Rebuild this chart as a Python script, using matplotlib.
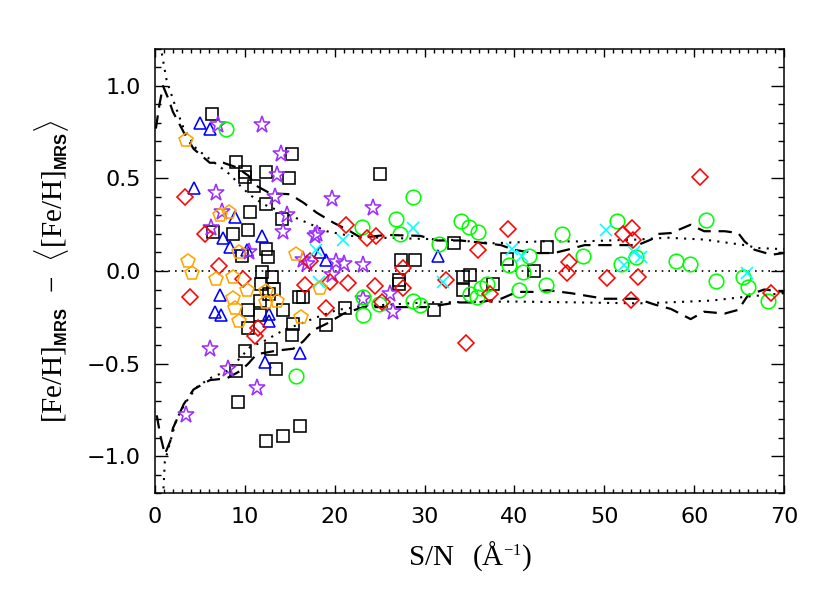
import matplotlib
matplotlib.use('Agg')
from matplotlib import pyplot as plt
from matplotlib.ticker import MultipleLocator
import matplotlib._mathtext as mathtext_internal

# black squares
sq_x = [6.3, 9.0, 10.0, 10.0, 12.3, 14.9, 11.0, 15.2, 12.3, 10.6, 14.1, 6.5, 8.7, 10.3,
        9.7, 12.4, 12.6, 11.9, 13.0, 11.8, 13.2, 12.7, 11.7, 16.0, 16.5, 14.2, 10.4, 11.7,
        10.3, 15.4, 15.3, 21.1, 19.0, 10.0, 12.9, 13.5, 9.0, 9.2, 12.4, 14.3, 16.1, 25.0,
        33.3, 27.4, 28.9, 27.1, 27.2, 31.0, 34.3, 35.1, 34.3, 37.6, 39.2, 42.2, 43.6]
sq_y = [0.85, 0.59, 0.535, 0.51, 0.535, 0.50, 0.46, 0.63, 0.36, 0.32, 0.28, 0.21, 0.20, 0.22,
        0.08, 0.12, 0.075, -0.004, -0.035, -0.07, -0.095, -0.125, -0.16, -0.14, -0.14, -0.21, -0.21, -0.24,
        -0.31, -0.285, -0.345, -0.20, -0.29, -0.43, -0.42, -0.53, -0.54, -0.71, -0.92, -0.89, -0.84, 0.525,
        0.15, 0.06, 0.06, -0.05, -0.07, -0.21, -0.03, -0.02, -0.10, -0.07, 0.065, 0.002, 0.13]

# blue triangles
tri_x = [5.0, 6.1, 4.3, 8.9, 7.6, 11.9, 8.3, 10.2, 18.4, 19.0, 7.2, 6.7, 7.4, 12.7, 12.7,
         16.1, 12.2, 31.5]
tri_y = [0.80, 0.77, 0.45, 0.29, 0.18, 0.19, 0.13, 0.115, 0.10, 0.06, -0.13, -0.22, -0.24, -0.235, -0.27,
         -0.445, -0.49, 0.08]

# purple stars
star_x = [7.0, 11.9, 14.0, 13.6, 6.8, 13.4, 19.7, 7.5, 14.7, 6.2, 14.2, 18.0, 17.8, 10.5,
          16.5, 20.1, 21.0, 23.2, 16.9, 19.7, 23.2, 6.1, 8.1, 11.4, 3.5, 24.3, 26.2, 26.5]
star_y = [0.79, 0.79, 0.63, 0.52, 0.42, 0.40, 0.39, 0.32, 0.30, 0.23, 0.21, 0.20, 0.19, 0.10,
          0.06, 0.05, 0.04, 0.03, 0.04, -0.02, -0.15, -0.42, -0.53, -0.63, -0.78, 0.34, -0.125, -0.22]

# green circles
circ_x = [7.9, 23.0, 23.2, 23.1, 15.7, 28.7, 26.8, 27.3, 31.6, 34.0, 34.9, 35.9, 24.9, 28.7,
          29.5, 35.0, 35.8, 36.3, 36.9, 39.4, 41.6, 41.0, 40.5, 43.5, 45.3, 47.6, 51.4, 51.9,
          53.5, 58.0, 59.5, 61.3, 62.4, 65.4, 66.0, 68.2]
circ_y = [0.77, 0.24, -0.14, -0.24, -0.57, 0.40, 0.28, 0.20, 0.145, 0.27, 0.24, 0.21, -0.18, -0.16,
          -0.185, -0.125, -0.14, -0.09, -0.07, 0.03, 0.08, -0.005, -0.10, -0.073, 0.20, 0.08, 0.27, 0.04,
          0.075, 0.055, 0.04, 0.275, -0.055, -0.03, -0.085, -0.16]

# red diamonds
dia_x = [3.3, 21.3, 23.6, 5.6, 7.1, 3.9, 9.8, 16.7, 17.2, 19.5, 21.5, 19.0, 11.5, 11.1,
         24.6, 35.9, 39.3, 27.6, 24.5, 27.6, 25.3, 32.4, 37.3, 34.6, 46.1, 45.9, 60.6, 53.1,
         52.1, 53.2, 50.3, 53.7, 53.0, 68.5]
dia_y = [0.40, 0.25, 0.18, 0.20, 0.025, -0.14, -0.045, -0.077, 0.055, -0.06, -0.065, -0.20, -0.31, -0.35,
         0.19, 0.115, 0.225, 0.015, -0.08, -0.09, -0.17, -0.05, -0.125, -0.39, 0.05, -0.01, 0.51, 0.23,
         0.20, 0.17, -0.04, -0.03, -0.155, -0.12]

# cyan crosses
x_x = [20.9, 17.9, 18.3, 28.7, 32.0, 39.7, 40.8, 50.2, 53.3, 54.1, 52.2, 65.9]
x_y = [0.17, 0.115, -0.06, 0.23, -0.06, 0.12, 0.08, 0.22, 0.10, 0.075, 0.03, -0.013]

# orange pentagons
pen_x = [3.5, 7.2, 8.2, 3.7, 4.1, 6.8, 8.7, 9.4, 10.2, 12.3, 8.7, 13.6, 8.9, 12.3, 9.3,
         16.2, 15.7, 18.4]
pen_y = [0.71, 0.30, 0.32, 0.055, -0.01, -0.045, -0.03, 0.10, -0.10, -0.11, -0.145, -0.16, -0.20, -0.17, -0.27,
         -0.25, 0.09, -0.09]

# dashed envelope
dash_up_x = [0.1, 0.5, 0.9, 1.5, 2.0, 3.2, 4.3, 6.1, 7.6, 9.1, 10.4, 11.3, 12.8, 15.0, 16.5,
             18.0, 19.9, 21.7, 22.9, 25.8, 29.5, 31.4, 34.0, 35.9, 38.5, 39.9, 42.2, 44.4,
             45.9, 47.8, 50.0, 53.7, 55.2, 55.9, 57.4, 59.6, 61.1, 63.4, 64.9, 65.6, 66.7,
             68.6, 70.0]
dash_up_y = [0.77, 0.90, 1.00, 0.93, 0.86, 0.75, 0.66, 0.585, 0.585, 0.56, 0.515, 0.46, 0.42, 0.415, 0.37,
             0.315, 0.26, 0.215, 0.18, 0.195, 0.19, 0.165, 0.165, 0.155, 0.14, 0.115, 0.097, 0.097,
             0.115, 0.14, 0.14, 0.14, 0.17, 0.20, 0.205, 0.25, 0.215, 0.215, 0.205, 0.16, 0.115,
             0.088, 0.097]
dash_lo_x = [0.2, 0.6, 1.1, 1.7, 2.0, 3.2, 4.3, 6.1, 8.0, 9.5, 10.4, 11.3, 13.6, 15.4, 16.5,
             17.6, 19.1, 21.0, 23.2, 26.6, 30.3, 33.6, 35.9, 38.5, 40.3, 42.2, 43.7, 46.3,
             50.0, 53.7, 55.5, 57.4, 59.6, 61.1, 63.4, 64.9, 66.0, 67.8, 70.0]
dash_lo_y = [-0.78, -0.89, -0.99, -0.92, -0.85, -0.72, -0.64, -0.59, -0.58, -0.54, -0.50, -0.45, -0.43, -0.42, -0.38,
             -0.32, -0.285, -0.23, -0.195, -0.195, -0.195, -0.17, -0.17, -0.15, -0.113, -0.113, -0.104, -0.12,
             -0.15, -0.15, -0.18, -0.205, -0.26, -0.22, -0.23, -0.21, -0.13, -0.10, -0.113]

# dotted envelope
dot_up_x = [0.6, 1.3, 2.2, 3.2, 4.6, 6.5, 8.4, 9.5, 10.6, 12.1, 14.3, 16.5, 19.1, 21.7,
            25.0, 32.5, 37.7, 42.9, 47.4, 53.7, 57.0, 61.1, 65.6, 67.1, 70.0]
dot_up_y = [1.22, 1.03, 0.90, 0.77, 0.66, 0.59, 0.52, 0.46, 0.41, 0.36, 0.315, 0.27, 0.215, 0.19,
            0.18, 0.17, 0.15, 0.16, 0.16, 0.17, 0.18, 0.17, 0.14, 0.124, 0.118]
dot_lo_x = [0.9, 1.1, 2.4, 3.5, 4.6, 6.1, 8.0, 9.1, 10.6, 12.1, 14.3, 16.2, 18.0, 20.3,
            23.2, 30.0, 40.0, 47.4, 53.7, 57.0, 61.9, 65.6, 70.0]
dot_lo_y = [-1.22, -1.03, -0.80, -0.705, -0.63, -0.58, -0.54, -0.49, -0.41, -0.38, -0.32, -0.285, -0.25, -0.21,
            -0.19, -0.17, -0.165, -0.17, -0.175, -0.17, -0.16, -0.14, -0.12]

plt.rcParams['mathtext.fontset'] = 'custom'
plt.rcParams['mathtext.rm'] = 'Liberation Serif'
plt.rcParams['mathtext.bf'] = 'Liberation Sans:bold'
# smaller sub/superscripts, like the IDL original
mathtext_internal.SHRINK_FACTOR = 0.56

fig = plt.figure(figsize=(8.3, 5.93), dpi=100)
ax = fig.add_axes([0.1867, 0.1686, 0.758, 0.7488])

# envelopes
ax.plot(dash_up_x, dash_up_y, color='black', lw=1.6, ls=(0, (6, 3.5)))
ax.plot(dash_lo_x, dash_lo_y, color='black', lw=1.6, ls=(0, (6, 3.5)))
ax.plot(dot_up_x, dot_up_y, color='black', lw=1.5, ls=(0, (1, 3)))
ax.plot(dot_lo_x, dot_lo_y, color='black', lw=1.5, ls=(0, (1, 3)))
ax.axhline(0, color='black', lw=1.2, ls=(0, (1, 3)))

mew = 1.15
ax.plot(sq_x, sq_y, 's', ms=8, mfc='none', mec='black', mew=mew)
ax.plot(tri_x, tri_y, '^', ms=9, mfc='none', mec='blue', mew=mew)
ax.plot(star_x, star_y, '*', ms=12.5, mfc='none', mec='#9b30ff', mew=mew)
ax.plot(circ_x, circ_y, 'o', ms=10.5, mfc='none', mec='#00ff00', mew=mew)
ax.plot(dia_x, dia_y, 'D', ms=8.5, mfc='none', mec='red', mew=mew)
ax.plot(x_x, x_y, 'x', ms=8.5, mfc='none', mec='cyan', mew=mew)
ax.plot(pen_x, pen_y, 'p', ms=10, mfc='none', mec='orange', mew=mew)

ax.set_xlim(0, 70)
ax.set_ylim(-1.2, 1.2)
ax.xaxis.set_major_locator(MultipleLocator(10))
ax.xaxis.set_minor_locator(MultipleLocator(1))
ax.yaxis.set_major_locator(MultipleLocator(0.5))
ax.yaxis.set_minor_locator(MultipleLocator(0.1))
ax.yaxis.set_major_formatter(plt.FuncFormatter(lambda v, p: ('%.1f' % v).replace('-', '\u2212')))

ax.tick_params(axis='both', which='both', direction='in', top=True, right=True,
               labelsize=16, width=1.0, pad=10)
ax.tick_params(axis='x', which='major', length=6)
ax.tick_params(axis='x', which='minor', length=3)
ax.tick_params(axis='y', which='major', length=9.5)
ax.tick_params(axis='y', which='minor', length=4.5)
for s in ax.spines.values():
    s.set_linewidth(1.1)

ax.set_xlabel(r'$\mathrm{S/N\ \ (\AA^{-1})}$', fontsize=21)
ax.xaxis.set_label_coords(0.5, -0.105)
ax.set_ylabel(r'$\mathrm{[Fe/H]}_{\mathbf{MRS}}\ -\ \langle\mathrm{[Fe/H]}_{\mathbf{MRS}}\rangle$',
              fontsize=21)
ax.yaxis.set_label_coords(-0.134, 0.5)

fig.savefig('out.png', dpi=100)
